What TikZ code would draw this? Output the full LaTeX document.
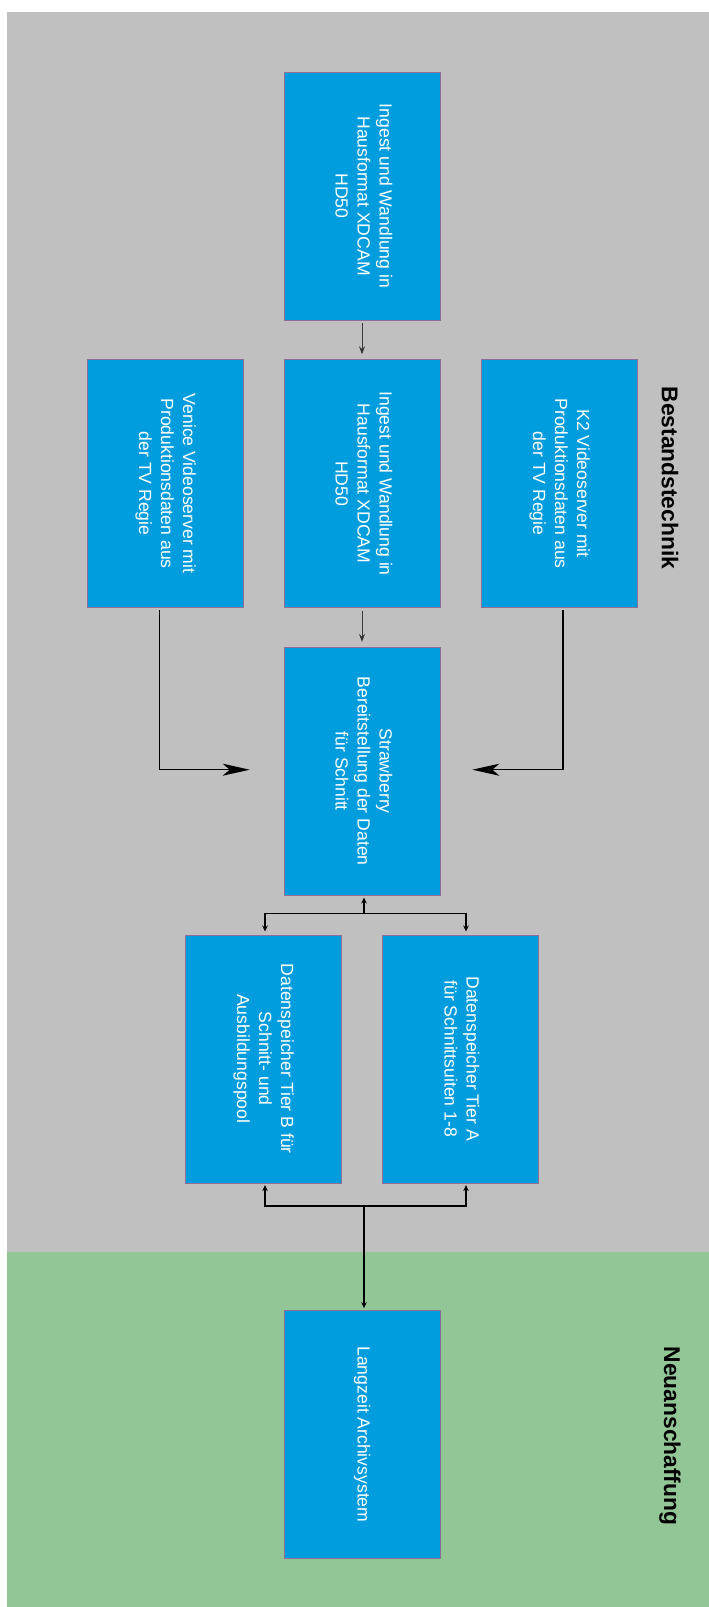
\documentclass[tikz,border=0pt]{standalone}
\usepackage{fontspec}
\setmainfont{Liberation Sans}
\usepackage{graphicx}
\usetikzlibrary{arrows.meta,positioning}

\definecolor{bestandgray}{RGB}{192,192,192}
\definecolor{neugreen}{RGB}{146,198,150}
\definecolor{boxblue}{RGB}{0,157,222}
\definecolor{boxedge}{RGB}{140,110,150}
\definecolor{thinarrow}{RGB}{60,60,60}

\newcommand{\vlabel}[1]{\rotatebox{-90}{\begin{tabular}{@{}c@{}}#1\end{tabular}}}

\begin{document}
\begin{tikzpicture}[x=1pt,y=1pt,node distance=39pt and 40pt,
                    box/.style={rectangle,draw=boxedge,line width=0.6pt,fill=boxblue,
                      minimum width=156pt,minimum height=248pt,inner sep=0pt,
                      text=white,font=\fontsize{17.6}{22}\selectfont},
                    section label/.style={rotate=-90,font=\fontsize{22.8}{26}\selectfont\bfseries},
                    thin flow/.style={draw=thinarrow,line width=0.9pt,
                      -{Stealth[length=8pt,width=6pt]},shorten <=3pt,shorten >=5pt},
                    side flow/.style={draw=black,line width=1.4pt,
                      -{Stealth[length=27pt,width=12pt,inset=7pt]}},
                    link/.style={draw=black,line width=1.3pt},
                    link tip/.style={-{Stealth[length=6pt,width=5.5pt]}}]

  \useasboundingbox (0,0) rectangle (709,-1607);
  \fill[bestandgray] (7,-12) rectangle (709,-1252);
  \fill[neugreen] (7,-1252) rectangle (709,-1607);

  \node[section label] (bestand) at (670,-478) {Bestandstechnik};
  \node[section label] (neu)     at (670,-1436) {Neuanschaffung};

  \node[box] (ingest) at (362,-196) {\vlabel{Ingest und Wandlung in\\Hausformat XDCAM\\HD50}};
  \node[box] (ingest2)    [below=of ingest] {\vlabel{Ingest und Wandlung in\\Hausformat XDCAM\\HD50}};
  \node[box] (venice)     [left=of ingest2] {\vlabel{Venice Videoserver mit\\Produktionsdaten aus\\der TV Regie}};
  \node[box] (k2)         [right=41pt of ingest2] {\vlabel{K2 Videoserver mit\\Produktionsdaten aus\\der TV Regie}};
  \node[box] (strawberry) [below=of ingest2] {\vlabel{Strawberry\\Bereitstellung der Daten\\für Schnitt}};
  \node[box] (tierB)      [below=of strawberry,xshift=-98.5pt] {\vlabel{Datenspeicher Tier B für\\Schnitt- und\\Ausbildungspool}};
  \node[box] (tierA)      [below=of strawberry,xshift=98pt] {\vlabel{Datenspeicher Tier A\\für Schnittsuiten 1-8}};
  \node[box] (langzeit)   [below=127pt of tierA,xshift=-98pt] {\vlabel{Langzeit Archivsystem}};

  \coordinate[below=18pt of strawberry] (split1);
  \coordinate[above=104pt of langzeit] (split2);

  \path[thin flow] (ingest) edge (ingest2)
                   (ingest2) edge (strawberry);

  \draw[side flow] ([xshift=-6pt,yshift=-2pt]venice.south) |- ([xshift=-34pt,yshift=1.5pt]strawberry.west);
  \draw[side flow] ([xshift=3.5pt,yshift=-2pt]k2.south) |- ([xshift=32pt,yshift=1.5pt]strawberry.east);

  \draw[link,link tip,shorten >=2pt] ([xshift=2pt]split1) -- ([xshift=2pt]strawberry.south);
  \draw[link,{Stealth[length=6pt,width=5.5pt]}-{Stealth[length=6pt,width=5.5pt]},shorten <=3pt,shorten >=3pt]
    ([xshift=1.5pt]tierB.north) |- (split1) -| ([xshift=6pt]tierA.north);

  \draw[link,{Stealth[length=6pt,width=5.5pt]}-{Stealth[length=6pt,width=5.5pt]},shorten <=2pt,shorten >=2pt]
    ([xshift=1.5pt]tierB.south) |- (split2) -| ([xshift=6pt]tierA.south);
  \draw[link,link tip,shorten >=2pt] ([xshift=2pt]split2) -- ([xshift=2pt]langzeit.north);
\end{tikzpicture}
\end{document}
